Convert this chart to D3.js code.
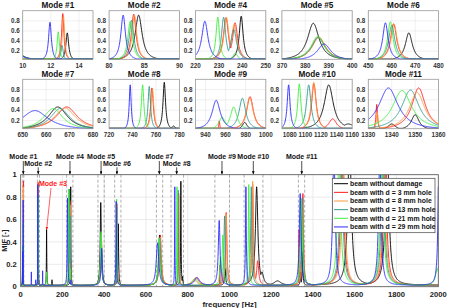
<!DOCTYPE html>
<html><head><meta charset="utf-8">
<script src="https://cdn.jsdelivr.net/npm/d3@7"></script>
<style>
body{margin:0;background:#fff}
svg{display:block;font-family:"Liberation Sans",Arial,sans-serif;font-weight:bold}
</style>
</head><body><svg id="c" width="449" height="308"></svg>
<script>
// ---------- DATA (peaks: [frequency Hz, MIF height, half-width Hz]) ----------
const seriesNames = ["beam without damage","beam with d = 3 mm hole","beam with d = 8 mm hole",
  "beam with d = 13 mm hole","beam with d = 21 mm hole","beam with d = 29 mm hole"];
const peaksNoDamage = [[9.2,0.35,0.5],[13.17,0.55,0.12],[84.2,0.9,0.6],[124,0.5,1.0],[150,0.05,0.6],
  [239.5,0.88,1.0],[383.4,0.74,3.0],[467.3,0.55,1.8],[665,0.45,5],[767.1,0.93,1.3],[775,0.08,2],
  [979,0.15,3],[1130,0.88,7],[1155,0.12,10],[1230,0.04,20],[1340,0.12,2],[1350,0.3,2],
  [1575,1.3,10],[1755,1.3,10]];
const peaksD3 = [[12.85,0.93,0.1],[83.5,0.92,0.4],[233,0.85,1.3],[236.9,0.75,1.3],[385.6,0.47,3.5],
  [460.8,0.73,1.6],[668.8,0.45,5.5],[756.6,0.82,1.4],[840,0.07,15],[953.7,0.18,0.6],[984.3,0.65,4],
  [1111,0.9,3.5],[1135,0.22,6],[1333.6,0.5,0.4],[1351.5,0.82,3.5],[1540,1.2,9],[1745,1.2,9]];
const peaksD8 = [[12.9,0.88,0.1],[83.6,0.9,0.4],[233.2,0.86,1.3],[236.5,0.72,1.4],[385.8,0.46,3.5],
  [461,0.72,1.6],[668,0.43,5.5],[757,0.8,1.4],[830,0.05,15],[984,0.64,4],
  [1110.7,0.93,3.5],[1333.8,0.35,0.4],[1350.8,0.73,4],[1545,1.2,9],[1740,1.2,9]];
const peaksD13 = [[9.2,0.35,0.5],[12.8,0.3,0.1],[83.2,0.8,0.4],[232,0.86,1.1],[236.3,0.62,1.5],
  [385.5,0.46,3.5],[460,0.7,1.6],[666,0.42,5],[754.3,0.85,1.3],[976.7,0.62,4],
  [1104.3,0.88,3.5],[1348,0.78,4.5],[1535,1.2,9],[1735,1.2,9]];
const peaksD21 = [[12.53,0.57,0.1],[83,0.78,0.4],[124,0.12,1.5],[229.5,0.86,0.9],[237,0.15,1.2],
  [385.3,0.48,3.5],[459.4,0.77,1.4],[663,0.42,5],[748.6,0.88,1.3],[835,0.06,15],[956.5,0.25,4],
  [968,0.45,4],[1092.3,0.9,2.5],[1344.4,0.77,5],[1525,1.2,9],[1730,1.2,9],[1995,0.15,10]];
const peaksD29 = [[9.2,0.3,0.5],[11.94,0.76,0.12],[51,0.12,0.4],[72,0.05,0.4],[105,0.13,0.4],[82,0.9,0.4],
  [224,0.78,1.6],[240,0.05,1],[388,0.33,3.5],[457.3,0.75,1.4],[655.2,0.38,7],[738,0.88,1.0],
  [845,0.07,15],[950.6,0.58,5],[1078.6,0.88,2.2],[1338.6,0.82,5],[1500,1.2,7],[1720,1.2,7],[2003,1.2,5]];
const seriesPeaks = [peaksNoDamage, peaksD3, peaksD8, peaksD13, peaksD21, peaksD29];

const panelModes = ["Mode #1","Mode #2","Mode #4","Mode #5","Mode #6",
                    "Mode #7","Mode #8","Mode #9","Mode #10","Mode #11"];
const panelDomains = [[10,15],[80,90],[220,250],[370,400],[450,480],
                      [650,680],[720,780],[930,1000],[1070,1160],[1330,1360]];
const panelTicks = [[10,12,14],[80,85,90],[220,230,240,250],[370,380,390,400],[450,460,470,480],
                    [650,660,670,680],[720,740,760,780],[940,960,980,1000],[1080,1100,1120,1140,1160],[1330,1340,1350,1360]];
const panelYTicks = [0.2,0.4,0.6,0.8];

const mainXTicks = [0,200,400,600,800,1000,1200,1400,1600,1800,2000];
const mainYTicks = [0,0.2,0.4,0.6,0.8,1];
const arrowLabels = ["Mode #1","Mode #2","Mode #4","Mode #5","Mode #6","Mode #7","Mode #8","Mode #9","Mode #10","Mode #11"];
const arrowFreqs = [12.5,84,236,385,461,664,747,964,1114,1346];
const arrowRows = [0,1,0,0,1,0,1,0,0,0];
const mode3Freq = 124, mode3Value = 0.5;

// ---------- STYLE ----------
const seriesColors = ["#000000","#ff1a1a","#ff9a3c","#2f9b8f","#3cf03c","#2a2aff"];
const svg = d3.select("#c");

function mif(peaks, x){
  let m = 0;
  for (const [f,h,w] of peaks){ const d=(x-f)/w; const v=h/(1+d*d); if(v>m) m=v; }
  return 0.012 + m;
}
function sample(peaks, lo, hi, n){
  const xs = new Set();
  for (let i=0;i<=n;i++) xs.add(lo+(hi-lo)*i/n);
  for (const [f,h,w] of peaks){
    for (let k=-16;k<=16;k++){ const x=f+k*w*0.4; if(x>=lo&&x<=hi) xs.add(x); }
  }
  return [...xs].sort((a,b)=>a-b).map(x=>[x, mif(peaks,x)]);
}

// ---------- SMALL PANELS ----------
const pLeft0 = 22.7, pStep = 86.4, pW = 70.3;
const rowsY = [[10.7,59.3],[79.3,128.7]];
const defs = svg.append("defs");

panelModes.forEach((name,i)=>{
  const r = Math.floor(i/5), c = i%5;
  const x0 = pLeft0 + c*pStep, x1 = x0 + pW;
  const [top, bot] = rowsY[r];
  const xs = d3.scaleLinear().domain(panelDomains[i]).range([x0,x1]);
  const ys = d3.scaleLinear().domain([0.04,1]).range([bot,top]);
  const g = svg.append("g");
  g.append("rect").attr("x",x0).attr("y",top).attr("width",pW).attr("height",bot-top).attr("fill","#fff");
  g.selectAll(".gx").data(panelTicks[i]).join("line")
    .attr("x1",d=>xs(d)).attr("x2",d=>xs(d)).attr("y1",top).attr("y2",bot)
    .attr("stroke","#e6e6e6").attr("stroke-width",0.6);
  g.selectAll(".gy").data(panelYTicks).join("line")
    .attr("x1",x0).attr("x2",x1).attr("y1",d=>ys(d)).attr("y2",d=>ys(d))
    .attr("stroke","#e6e6e6").attr("stroke-width",0.6);
  const cid = "clipP"+i;
  defs.append("clipPath").attr("id",cid).append("rect")
    .attr("x",x0).attr("y",top).attr("width",pW).attr("height",bot-top+0.5);
  const line = d3.line().x(d=>xs(d[0])).y(d=>ys(Math.max(d[1],0.047)));
  const cg = g.append("g").attr("clip-path",`url(#${cid})`);
  seriesPeaks.forEach((pk,s)=>{
    cg.append("path").attr("d", line(sample(pk, panelDomains[i][0], panelDomains[i][1], 300)))
      .attr("fill","none").attr("stroke",seriesColors[s]).attr("stroke-width",0.9);
  });
  g.append("rect").attr("x",x0).attr("y",top).attr("width",pW).attr("height",bot-top)
    .attr("fill","none").attr("stroke","#9a9a9a").attr("stroke-width",0.8);
  g.selectAll(".tx").data(panelTicks[i]).join("text")
    .attr("x",d=>xs(d)).attr("y",bot+8.5).attr("text-anchor","middle")
    .attr("font-size",6.3).attr("fill","#333").text(d=>d);
  g.selectAll(".ty").data(panelYTicks).join("text")
    .attr("x",x0-3).attr("y",d=>ys(d)+2.2).attr("text-anchor","end")
    .attr("font-size",6.3).attr("fill","#333").text(d=>d);
  g.append("text").attr("x",(x0+x1)/2).attr("y",top-2.6).attr("text-anchor","middle")
    .attr("font-size",8.2).attr("fill","#111").text(name);
});

// ---------- MAIN CHART ----------
const mL = 20.7, mR = 438.3, mT = 174.7, mB = 286.7;
const X = d3.scaleLinear().domain([0,2000]).range([mL,mR]);
const Y = d3.scaleLinear().domain([0,1]).range([mB,mT]);
const mg = svg.append("g");
mg.selectAll(".mgx").data(mainXTicks).join("line")
  .attr("x1",d=>X(d)).attr("x2",d=>X(d)).attr("y1",mT).attr("y2",mB)
  .attr("stroke","#e2e2e2").attr("stroke-width",0.7);
mg.selectAll(".mgy").data(mainYTicks).join("line")
  .attr("x1",mL).attr("x2",mR).attr("y1",d=>Y(d)).attr("y2",d=>Y(d))
  .attr("stroke","#e2e2e2").attr("stroke-width",0.7);
const bounds = panelDomains.flat();
mg.selectAll(".db").data(bounds).join("line")
  .attr("x1",d=>X(d)).attr("x2",d=>X(d)).attr("y1",mT).attr("y2",mB)
  .attr("stroke","#9a9a9a").attr("stroke-width",0.8).attr("stroke-dasharray","3,2");

defs.append("clipPath").attr("id","clipM").append("rect")
  .attr("x",mL).attr("y",mT).attr("width",mR-mL).attr("height",mB-mT+1);
const mLine = d3.line().x(d=>X(d[0])).y(d=>Y(d[1]));
const mcg = mg.append("g").attr("clip-path","url(#clipM)");
seriesPeaks.forEach((pk,s)=>{
  mcg.append("path").attr("d", mLine(sample(pk,0,2000,2000)))
    .attr("fill","none").attr("stroke",seriesColors[s]).attr("stroke-width",0.9);
});
mg.append("rect").attr("x",mL).attr("y",mT).attr("width",mR-mL).attr("height",mB-mT)
  .attr("fill","none").attr("stroke","#555").attr("stroke-width",0.8);

mg.selectAll(".mtx").data(mainXTicks).join("text")
  .attr("x",d=>X(d)).attr("y",mB+10).attr("text-anchor","middle")
  .attr("font-size",7.6).attr("fill","#222").text(d=>d);
mg.selectAll(".mty").data(mainYTicks).join("text")
  .attr("x",mL-4).attr("y",d=>Y(d)+2.6).attr("text-anchor","end")
  .attr("font-size",7.6).attr("fill","#222").text(d=>d);
mg.append("text").attr("x",(mL+mR)/2).attr("y",307).attr("text-anchor","middle")
  .attr("font-size",7.8).attr("fill","#222").text("frequency [Hz]");
mg.append("text").attr("transform",`translate(7.2,${(mT+mB)/2+10}) rotate(-90)`)
  .attr("text-anchor","middle").attr("font-size",7.4).attr("fill","#222").text("MIF [-]");

defs.append("marker").attr("id","ahB").attr("viewBox","0 0 10 10").attr("refX",10).attr("refY",5)
  .attr("markerWidth",4).attr("markerHeight",4).attr("orient","auto")
  .append("path").attr("d","M0,0L10,5L0,10z").attr("fill","#000");
defs.append("marker").attr("id","ahR").attr("viewBox","0 0 10 10").attr("refX",10).attr("refY",5)
  .attr("markerWidth",4).attr("markerHeight",4).attr("orient","auto")
  .append("path").attr("d","M0,0L10,5L0,10z").attr("fill","#ff2020");

arrowLabels.forEach((lab,i)=>{
  const x = X(arrowFreqs[i]);
  const ty = arrowRows[i] ? 165.5 : 159.2;
  svg.append("text").attr("x",x).attr("y",ty).attr("text-anchor","middle")
    .attr("font-size",7).attr("fill","#111").text(lab);
  svg.append("line").attr("x1",x).attr("x2",x).attr("y1",ty+1.8).attr("y2",mT-0.6)
    .attr("stroke","#000").attr("stroke-width",0.7).attr("marker-end","url(#ahB)");
});
svg.append("text").attr("x",53).attr("y",185.5).attr("text-anchor","middle")
  .attr("font-size",7).attr("fill","#ff2020").text("Mode #3");
svg.append("line").attr("x1",51).attr("y1",188).attr("x2",X(mode3Freq)).attr("y2",Y(mode3Value)-1)
  .attr("stroke","#ff2020").attr("stroke-width",0.7).attr("marker-end","url(#ahR)");

const lg = svg.append("g");
lg.append("rect").attr("x",332.3).attr("y",178.3).attr("width",102.7).attr("height",54.4)
  .attr("fill","#fff").attr("stroke","#444").attr("stroke-width",0.7);
seriesNames.forEach((n,i)=>{
  const y = 183.7 + i*8.65;
  lg.append("line").attr("x1",334).attr("x2",348).attr("y1",y).attr("y2",y)
    .attr("stroke",seriesColors[i]).attr("stroke-width",1);
  lg.append("text").attr("x",350).attr("y",y+2.4).attr("font-size",6.9).attr("fill","#111").text(n);
});
</script>
</body></html>
